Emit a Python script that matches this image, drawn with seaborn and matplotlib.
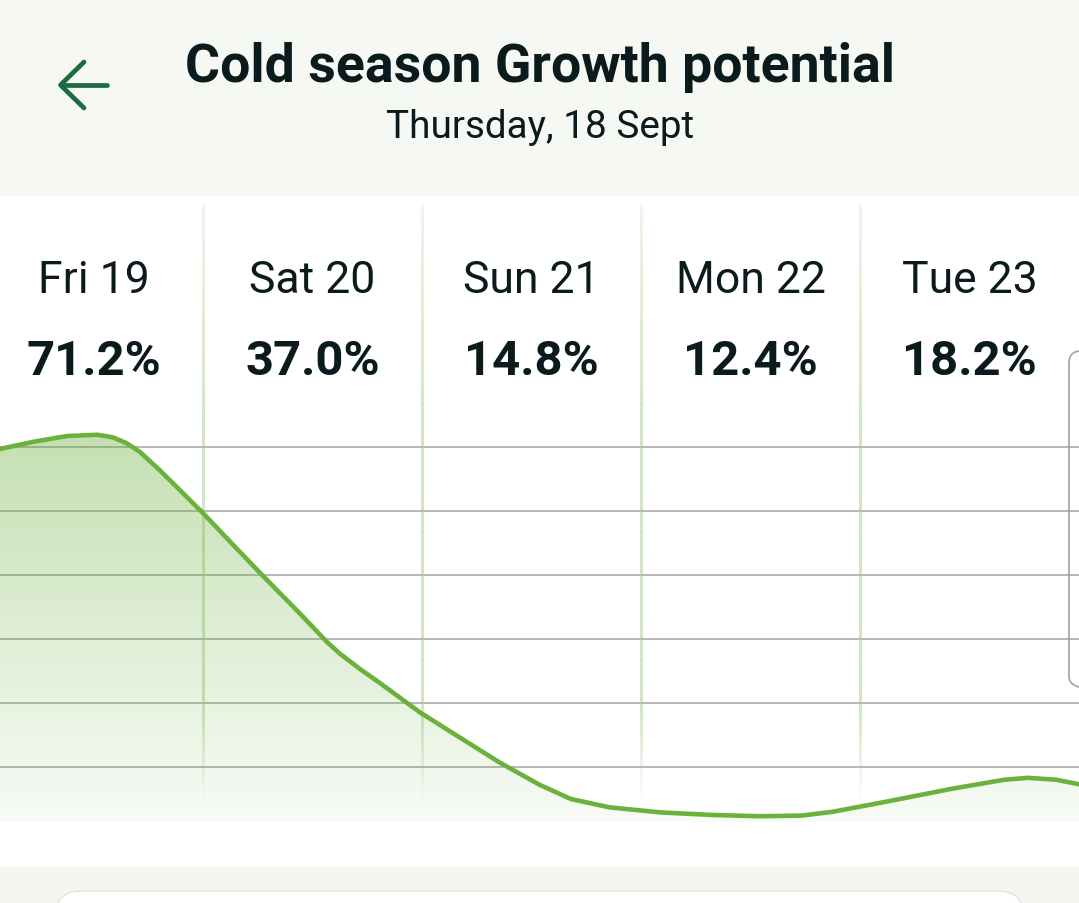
import numpy as np
import pandas as pd
import matplotlib
matplotlib.use("Agg")
import matplotlib.pyplot as plt
import seaborn as sns
from matplotlib.colors import to_rgb
from matplotlib.transforms import Affine2D, blended_transform_factory
from matplotlib.patches import Rectangle, FancyBboxPatch, Polygon
from matplotlib.lines import Line2D
from matplotlib.collections import LineCollection

# =========================
# Data
# =========================
TITLE = "Cold season Growth potential"
SUBTITLE = "Thursday, 18 Sept"
days = ["Fri 19", "Sat 20", "Sun 21", "Mon 22", "Tue 23"]
day_pct = [71.2, 37.0, 14.8, 12.4, 18.2]

# hours since the start of Fri 19 / potential of the curve
hours = [1.5, 5.4, 9.1, 12.4, 14.1, 15.6, 17.1, 19.3, 21.5, 23.9, 27.3, 30.6,
         34.6, 37.6, 39.0, 41.2, 43.3, 47.8, 52.7, 56.5, 60.9, 64.3, 68.5,
         74.1, 79.8, 85.0, 89.6, 93.0, 98.6, 106.1, 111.8, 114.4, 117.5, 120.0]
potential = [59.6, 60.8, 61.7, 61.9, 61.5, 60.6, 59.2, 56.3, 53.2, 49.8, 44.7,
             39.8, 34.0, 29.5, 27.7, 25.3, 23.2, 18.5, 14.1, 10.7, 7.2, 5.0,
             3.7, 2.9, 2.5, 2.3, 2.4, 3.0, 4.5, 6.6, 8.0, 8.3, 8.0, 7.3]
grid_levels = [10, 20, 30, 40, 50, 60]

# =========================
# Style
# =========================
W, H = 1079, 904
LINE = "#6bb23d"
TXT = "#0b1a1c"
HEADER_BG = "#f5f8f3"
SEP = "#cfe5c2"
XMIN, XMAX = 1.75, 120
YMIN, YMAX = 1.4, 99.2

sns.set_style("white")
plt.rcParams["font.family"] = ["Roboto", "DejaVu Sans"]

fig = plt.figure(figsize=(W / 100, H / 100), dpi=100)
fig.patch.set_facecolor("white")
# pixel coords, origin top-left
pix = Affine2D().scale(1 / W, -1 / H).translate(0, 1) + fig.transFigure

ax = fig.add_axes([0, (H - 823) / H, 1, (823 - 197) / H])
ax.set_axis_off()

# horizontal grid
for g in grid_levels:
    ax.axhline(g, color="#b6b6b6", lw=1.4, zorder=1)

# day separators with a soft fade
tr_sep = blended_transform_factory(ax.transData, pix)
ys = np.linspace(205, 800, 80)
alpha_prof = np.interp(ys, [205, 420, 700, 800], [0.35, 1.0, 1.0, 0.0])
for i in range(1, len(days)):
    xb = 24 * i
    segs = [[(xb, ys[k]), (xb, ys[k + 1])] for k in range(len(ys) - 1)]
    cols = [(*to_rgb(SEP), a) for a in alpha_prof[:-1]]
    lc = LineCollection(segs, colors=cols, linewidths=2.2, transform=tr_sep, zorder=0.5)
    ax.add_collection(lc)

# curve
df = pd.DataFrame({"hour": hours, "potential": potential})
sns.lineplot(data=df, x="hour", y="potential", ax=ax, color=LINE, lw=3.3,
             zorder=5, solid_capstyle="round", solid_joinstyle="round")

# gradient fill under the curve
grad = np.zeros((256, 1, 4))
grad[..., :3] = to_rgb(LINE)
grad[:, 0, 3] = np.linspace(0.40, 0.05, 256)
im = ax.imshow(grad, aspect="auto", origin="upper",
               extent=[XMIN, XMAX, YMIN, max(potential)], zorder=2)
clip = Polygon(np.column_stack([[hours[0]] + hours + [hours[-1]],
                                [YMIN] + potential + [YMIN]]),
               closed=True, facecolor="none", edgecolor="none",
               transform=ax.transData)
ax.add_patch(clip)
im.set_clip_path(clip)

ax.set_xlim(XMIN, XMAX)
ax.set_ylim(YMIN, YMAX)

# day labels + values
tr_lab = blended_transform_factory(ax.transData, pix)
for i, (d, p) in enumerate(zip(days, day_pct)):
    xc = 12 + 24 * i
    ax.text(xc, 293, d, transform=tr_lab, ha="center", va="baseline",
            fontsize=32, color=TXT)
    ax.text(xc, 375, f"{p:.1f}%", transform=tr_lab, ha="center", va="baseline",
            fontsize=35.3, fontweight="bold", color=TXT)

# =========================
# Header / page chrome
# =========================
fig.patches.append(Rectangle((0, 0), W, 197, transform=pix, facecolor=HEADER_BG,
                             edgecolor="none", zorder=0))
fig.text(540, 82, TITLE, transform=pix, ha="center", va="baseline",
         fontsize=38.6, fontweight="bold", color=TXT)
fig.text(540.5, 138.5, SUBTITLE, transform=pix, ha="center", va="baseline",
         fontsize=27.9, color=TXT)

arrow_kw = dict(transform=pix, color="#1d6b40", lw=3.4, solid_capstyle="round",
                solid_joinstyle="round")
fig.add_artist(Line2D([60.5, 107], [86, 86], **arrow_kw))
fig.add_artist(Line2D([84, 60.5, 84], [63, 86, 109], **arrow_kw))

# scroll handle on the right edge
fig.patches.append(FancyBboxPatch((1069, 352), 40, 338,
                                  boxstyle="round,pad=0,rounding_size=12",
                                  transform=pix, facecolor="none",
                                  edgecolor="#a9a9a9", lw=1.3, zorder=3))

# bottom band and card
fig.patches.append(Rectangle((0, 868), W, 40, transform=pix, facecolor="#f4f6f2",
                             edgecolor="none", zorder=0))
fig.patches.append(FancyBboxPatch((55, 892), 969, 60,
                                  boxstyle="round,pad=0,rounding_size=26",
                                  transform=pix, facecolor="white",
                                  edgecolor="#e4e6e2", lw=1.2, zorder=1))

fig.savefig("out.png", dpi=100)
